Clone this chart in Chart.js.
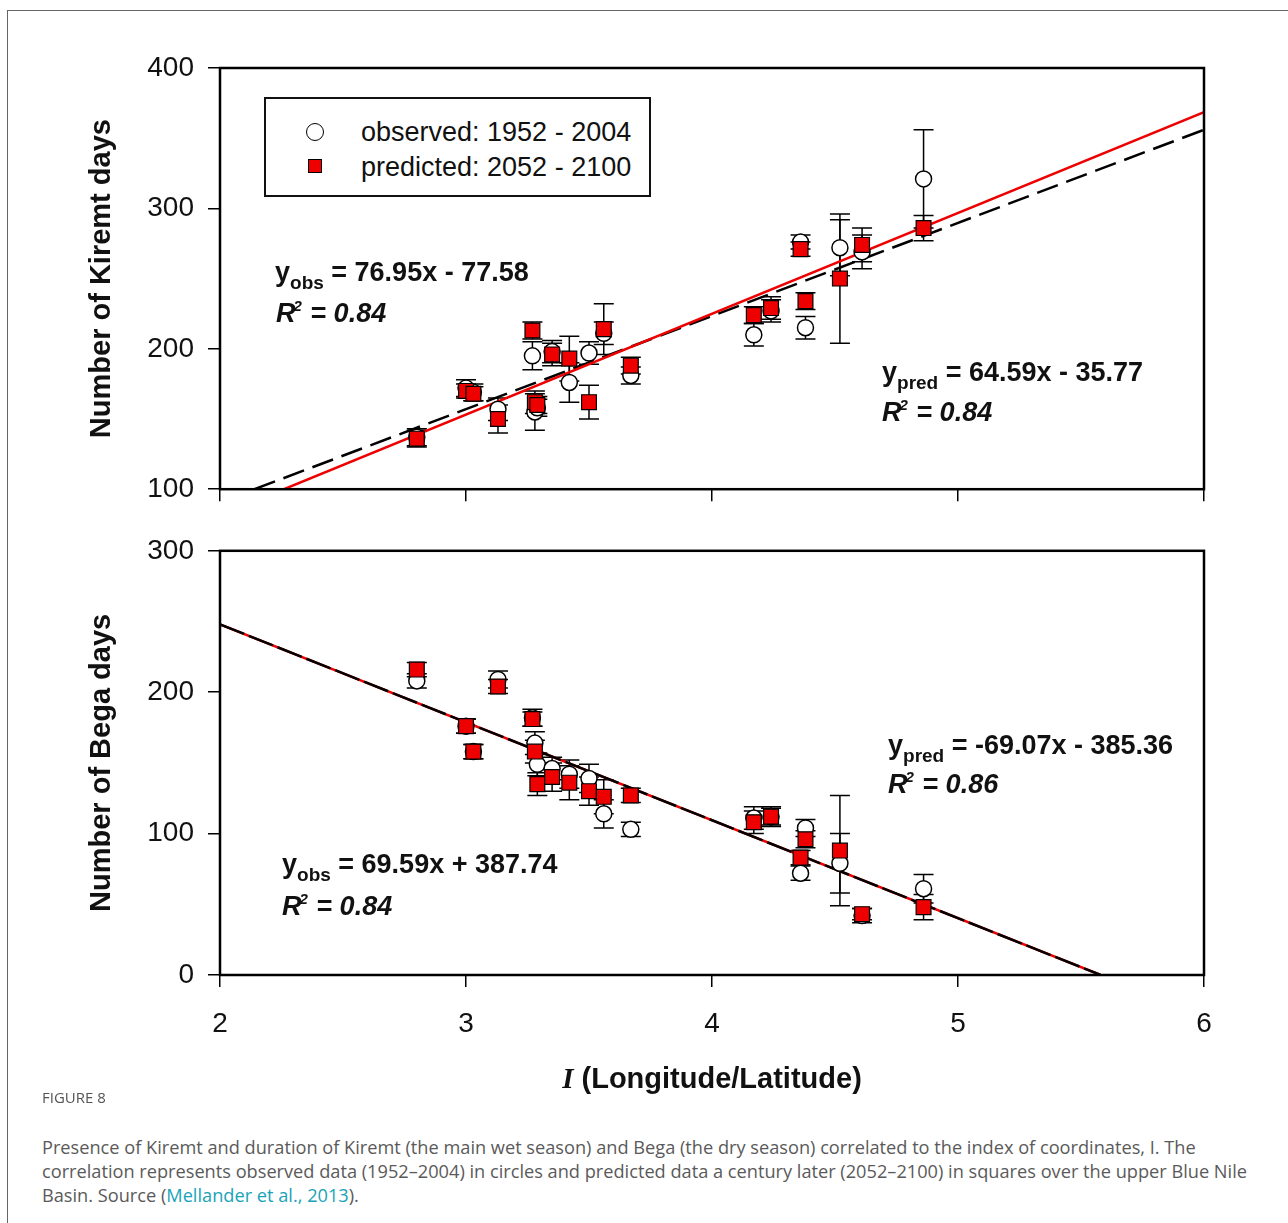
<!DOCTYPE html>
<html>
<head>
<meta charset="utf-8">
<script src="https://cdn.jsdelivr.net/npm/chart.js@4.4.1/dist/chart.umd.min.js"></script>
<style>
  body { margin: 0; background: #fff; width: 1288px; height: 1223px; position: relative; overflow: hidden; font-family: "Liberation Sans", Arial, sans-serif; }
  #frame { position: absolute; left: 7px; top: 10px; width: 1400px; height: 1400px; border: 1px solid #666; border-right: none; border-bottom: none; }
  canvas { position: absolute; left: 0; }
  #kiremt { top: 0; }
  #bega { top: 520px; }
  #legend { position: absolute; left: 264px; top: 97px; width: 387px; height: 100px; box-sizing: border-box; border: 2px solid #111; background: #fff; }
  #legend .row { position: absolute; left: 95px; font-size: 27px; line-height: 32px; color: #111; white-space: nowrap; }
  #legend .mk { position: absolute; box-sizing: border-box; }
  #legend .circ { left: 40px; top: 24px; width: 18px; height: 18px; border: 1.5px solid #000; border-radius: 50%; }
  #legend .sq { left: 42px; top: 60px; width: 14px; height: 14px; border: 1px solid #000; background: #ee0000; }
  .eq { position: absolute; font-weight: bold; font-size: 27px; line-height: 32px; color: #111; white-space: nowrap; }
  .eq sub { font-size: 19px; vertical-align: -8px; line-height: 0; }
  .eq sup { font-size: 15px; vertical-align: 11px; line-height: 0; margin-left: -2px; margin-right: 1px; }
  .eq.r2 { font-style: italic; }
  #xtitle { position: absolute; left: 220px; width: 984px; top: 1060px; text-align: center; font-weight: bold; font-size: 29px; line-height: 36px; color: #111; }
  #xtitle .sym { font-family: "Liberation Serif", serif; font-style: italic; }
  #figlabel { position: absolute; left: 42px; top: 1088px; font-family: "Open Sans", Lato, sans-serif; font-size: 15px; line-height: 18px; color: #555; }
  #caption { position: absolute; left: 42px; top: 1135px; font-family: "Open Sans", Lato, sans-serif; font-size: 18.2px; line-height: 24px; color: #5a5a5a; white-space: nowrap; }
  #caption a { color: #1aa3b8; text-decoration: none; }
</style>
</head>
<body>
<div id="frame"></div>
<canvas id="kiremt" width="1288" height="520"></canvas>
<canvas id="bega" width="1288" height="600"></canvas>

<div id="legend">
  <span class="mk circ"></span>
  <span class="mk sq"></span>
  <div class="row" style="top:17px">observed: 1952 - 2004</div>
  <div class="row" style="top:52px">predicted: 2052 - 2100</div>
</div>

<div class="eq" style="left:275px;top:256px">y<sub>obs</sub> = 76.95x - 77.58</div>
<div class="eq r2" style="left:276px;top:297px">R<sup>2</sup> = 0.84</div>
<div class="eq" style="left:882px;top:356px">y<sub>pred</sub> = 64.59x - 35.77</div>
<div class="eq r2" style="left:882px;top:396px">R<sup>2</sup> = 0.84</div>
<div class="eq" style="left:888px;top:729px">y<sub>pred</sub> = -69.07x - 385.36</div>
<div class="eq r2" style="left:888px;top:768px">R<sup>2</sup> = 0.86</div>
<div class="eq" style="left:282px;top:848px">y<sub>obs</sub> = 69.59x + 387.74</div>
<div class="eq r2" style="left:282px;top:890px">R<sup>2</sup> = 0.84</div>

<div id="xtitle"><span class="sym">I</span> (Longitude/Latitude)</div>

<div id="figlabel">FIGURE 8</div>
<div id="caption">Presence of Kiremt and duration of Kiremt (the main wet season) and Bega (the dry season) correlated to the index of coordinates, I. The<br>correlation represents observed data (1952–2004) in circles and predicted data a century later (2052–2100) in squares over the upper Blue Nile<br>Basin. Source (<a>Mellander et al., 2013</a>).</div>

<script>
// index of coordinates for each station
const stationX = [2.80, 3.00, 3.03, 3.13, 3.27, 3.28, 3.29, 3.35, 3.42, 3.50, 3.56, 3.67, 4.17, 4.24, 4.36, 4.38, 4.52, 4.61, 4.86];

// Kiremt days
const kiremtObs     = [137, 172, 169, 157, 195, 155, 158, 198, 176, 197, 211, 181, 210, 227, 276, 215, 272, 269, 321];
const kiremtObsErr  = [6, 6, 6, 8, 10, 13, 6, 8, 14, 8, 8, 6, 8, 8, 5, 8, 20, 12, 35];
const kiremtPred    = [136, 170, 168, 150, 213, 162, 160, 196, 193, 162, 214, 188, 224, 229, 271, 234, 250, 274, 286];
const kiremtPredErr = [6, 5, 5, 10, 6, 8, 6, 8, 16, 12, 18, 6, 6, 8, 5, 6, 46, 12, 9];

// Bega days
const begaObs     = [208, 176, 158, 209, 182, 164, 149, 146, 142, 139, 114, 103, 111, 112, 72, 104, 79, 42, 61];
const begaObsErr  = [5, 5, 5, 6, 6, 8, 8, 8, 10, 10, 10, 5, 8, 6, 5, 6, 21, 5, 10];
const begaPred    = [216, 176, 158, 204, 181, 158, 135, 140, 136, 130, 126, 127, 108, 112, 83, 96, 88, 43, 48];
const begaPredErr = [5, 5, 5, 5, 5, 8, 8, 10, 12, 10, 12, 5, 8, 7, 5, 6, 39, 4, 9];

// fitted lines as drawn (end points)
const kiremtDashX = [2.14, 6];
const kiremtDashY = [100, 356];
const kiremtRedX  = [2.26, 6];
const kiremtRedY  = [100, 368.5];
const begaFitX    = [2, 5.58];
const begaFitY    = [248, 0];

const xTicks = [2, 3, 4, 5, 6];

const pts = (xs, ys) => xs.map((x, i) => ({ x: x, y: ys[i] }));

// vertical error bars with caps, drawn under the markers
const errorBars = {
  id: 'errorBars',
  beforeDatasetsDraw(chart) {
    const ctx = chart.ctx;
    const xs = chart.scales.x, ys = chart.scales.y;
    ctx.save();
    ctx.strokeStyle = '#000';
    ctx.lineWidth = 1.5;
    chart.data.datasets.forEach(ds => {
      if (!ds.errors) return;
      ds.data.forEach((p, i) => {
        const e = ds.errors[i];
        const px = xs.getPixelForValue(p.x);
        const top = ys.getPixelForValue(p.y + e);
        const bot = ys.getPixelForValue(p.y - e);
        ctx.beginPath();
        ctx.moveTo(px, top); ctx.lineTo(px, bot);
        ctx.moveTo(px - 10, top); ctx.lineTo(px + 10, top);
        ctx.moveTo(px - 10, bot); ctx.lineTo(px + 10, bot);
        ctx.stroke();
      });
    });
    ctx.restore();
  }
};

// closed frame around the plot area
const plotBox = {
  id: 'plotBox',
  afterDraw(chart) {
    const a = chart.chartArea, ctx = chart.ctx;
    ctx.save();
    ctx.strokeStyle = '#000';
    ctx.lineWidth = 2.5;
    ctx.strokeRect(a.left, a.top, a.right - a.left, a.bottom - a.top);
    ctx.restore();
  }
};

const tickFont = { family: '"Liberation Sans", Arial, sans-serif', size: 28 };
const titleFont = { family: '"Liberation Sans", Arial, sans-serif', size: 29, weight: 'bold' };

function obsSet(data, errs) {
  return { label: 'observed: 1952 - 2004', data: data, errors: errs, pointStyle: 'circle', pointRadius: 8,
           backgroundColor: '#fff', borderColor: '#000', borderWidth: 1.5, showLine: false };
}
function predSet(data, errs) {
  return { label: 'predicted: 2052 - 2100', data: data, errors: errs, pointStyle: 'rect', pointRadius: 10.5,
           backgroundColor: '#ee0000', borderColor: '#000', borderWidth: 1.2, showLine: false };
}
function lineSet(data, color, dash) {
  return { data: data, showLine: true, pointRadius: 0, borderColor: color, borderWidth: 2.5,
           borderDash: dash, fill: false };
}

function makeOptions(yMin, yMax, yTitle, showXLabels, xHeight) {
  return {
    responsive: false,
    animation: false,
    layout: { padding: { left: 79, right: 84, top: showXLabels ? 27 : 68, bottom: showXLabels ? 25 : 4 } },
    plugins: { legend: { display: false }, tooltip: { enabled: false } },
    scales: {
      x: {
        type: 'linear', min: 2, max: 6,
        afterBuildTicks: s => { s.ticks = xTicks.map(v => ({ value: v })); },
        afterFit: s => { s.height = xHeight; },
        grid: { drawOnChartArea: false, color: '#000', lineWidth: 1.5, tickLength: 12 },
        border: { display: false },
        ticks: { display: showXLabels, color: '#111', font: tickFont, padding: 20 }
      },
      y: {
        min: yMin, max: yMax,
        afterFit: s => { s.width = 141; },
        grid: { drawOnChartArea: false, color: '#000', lineWidth: 1.5, tickLength: 12 },
        border: { display: false },
        ticks: { stepSize: 100, color: '#111', font: tickFont, padding: 14 },
        title: { display: true, text: yTitle, color: '#111', font: titleFont, padding: { top: 6 } }
      }
    }
  };
}

new Chart(document.getElementById('kiremt'), {
  type: 'scatter',
  data: {
    datasets: [
      predSet(pts(stationX, kiremtPred), kiremtPredErr),
      obsSet(pts(stationX, kiremtObs), kiremtObsErr),
      lineSet(pts(kiremtRedX, kiremtRedY), '#ee0000', []),
      lineSet(pts(kiremtDashX, kiremtDashY), '#000', [22, 9])
    ]
  },
  options: makeOptions(100, 400, 'Number of Kiremt days', false, 20),
  plugins: [errorBars, plotBox]
});

new Chart(document.getElementById('bega'), {
  type: 'scatter',
  data: {
    datasets: [
      predSet(pts(stationX, begaPred), begaPredErr),
      obsSet(pts(stationX, begaObs), begaObsErr),
      lineSet(pts(begaFitX, begaFitY), '#000', [26, 5]),
      lineSet(pts(begaFitX, begaFitY), '#ee0000', [])
    ]
  },
  options: makeOptions(0, 300, 'Number of Bega days', true, 120),
  plugins: [errorBars, plotBox]
});
</script>
</body>
</html>
